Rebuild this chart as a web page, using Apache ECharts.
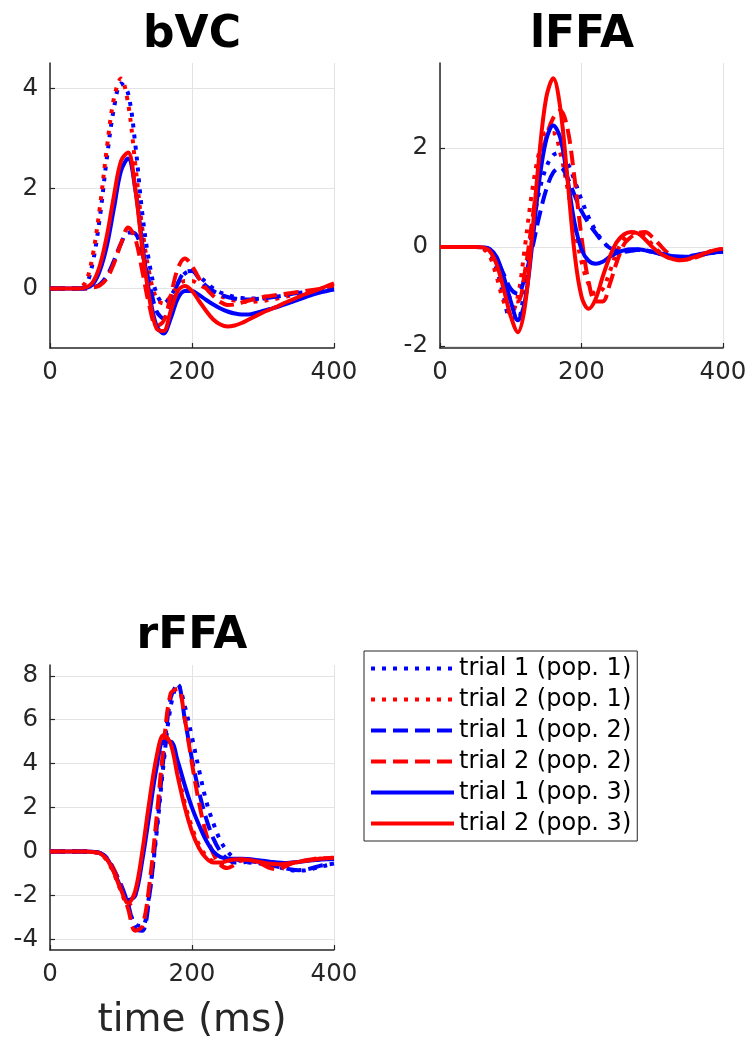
<!DOCTYPE html>
<html>
<head>
<meta charset="utf-8">
<script src="https://cdn.jsdelivr.net/npm/echarts@6/dist/echarts.min.js"></script>
<style>
html,body{margin:0;padding:0;background:#fff;}
#chart{width:753px;height:1041px;}
</style>
</head>
<body>
<div id="chart"></div>
<script>
// time (ms)
const time = [0,10,20,30,40,50,60,70,80,90,100,110,120,130,140,150,160,170,180,190,200,210,220,230,240,250,260,270,280,290,300,310,320,330,340,350,360,370,380,390,400];

const seriesNames = ['trial 1 (pop. 1)','trial 2 (pop. 1)','trial 1 (pop. 2)','trial 2 (pop. 2)','trial 1 (pop. 3)','trial 2 (pop. 3)'];
const panelTitles = ['bVC','lFFA','rFFA'];
const xTicks = [0,200,400];

// bVC
const bVC_t1p1 = [0,0,0,0,0, 0.05,0.5,1.4,2.6,3.6, 4.1,3.9,2.9,1.5,0.5, -0.1,-0.3,-0.15,0.1,0.3, 0.35,0.25,0.12,0.0,-0.08, -0.13,-0.17,-0.19,-0.2,-0.2, -0.2,-0.18,-0.15,-0.13,-0.1, -0.08,-0.06,-0.05,-0.03,-0.02, 0.0];
const bVC_t2p1 = [0,0,0,0,0.02, 0.12,0.65,1.6,2.8,3.8, 4.2,3.7,2.5,1.2,0.3, -0.2,-0.3,-0.15,0.05,0.15, 0.15,0.08,0.0,-0.08,-0.15, -0.2,-0.24,-0.26,-0.27,-0.26, -0.25,-0.22,-0.2,-0.17,-0.14, -0.1,-0.07,-0.04,-0.01,0.02, 0.05];
const bVC_t1p2 = [0,0,0,0,0, 0,0.02,0.08,0.25,0.55, 0.9,1.12,1.1,0.7,0.1, -0.45,-0.6,-0.35,0.1,0.33, 0.35,0.2,0.05,-0.05,-0.12, -0.17,-0.2,-0.22,-0.22,-0.21, -0.2,-0.18,-0.16,-0.14,-0.11, -0.09,-0.07,-0.05,-0.03,-0.01, 0.0];
const bVC_t2p2 = [0,0,0,0,0, 0,0.02,0.06,0.2,0.5, 0.9,1.22,1.0,0.35,-0.35, -0.75,-0.65,-0.15,0.4,0.6, 0.45,0.2,0.0,-0.15,-0.27, -0.33,-0.32,-0.28,-0.24,-0.2, -0.17,-0.15,-0.13,-0.11,-0.09, -0.07,-0.05,-0.03,-0.01,0.01, 0.03];
const bVC_t1p3 = [0,0,0,0,0, 0.01,0.08,0.35,0.85,1.6, 2.35,2.6,2.0,0.9,-0.1, -0.75,-0.9,-0.6,-0.2,-0.05, -0.05,-0.13,-0.23,-0.32,-0.4, -0.46,-0.5,-0.52,-0.52,-0.49, -0.45,-0.41,-0.37,-0.32,-0.27, -0.22,-0.17,-0.12,-0.08,-0.05, -0.02];
const bVC_t2p3 = [0,0,0,0,0, 0.02,0.12,0.45,1.05,1.85, 2.55,2.72,2.0,0.8,-0.2, -0.8,-0.85,-0.45,-0.05,0.05, -0.05,-0.25,-0.45,-0.62,-0.72, -0.76,-0.74,-0.69,-0.62,-0.55, -0.48,-0.42,-0.36,-0.29,-0.23, -0.17,-0.11,-0.06,-0.01,0.05, 0.1];

// lFFA
const lFFA_t1p1 = [0,0,0,0,0, 0,-0.02,-0.12,-0.45,-1.0, -1.45,-1.45,-0.7,0.3,1.1, 1.6,1.85,1.9,1.7,1.35, 0.95,0.6,0.33,0.12,-0.02, -0.08,-0.09,-0.07,-0.06,-0.07, -0.1,-0.13,-0.17,-0.2,-0.21, -0.2,-0.18,-0.16,-0.13,-0.11, -0.1];
const lFFA_t2p1 = [0,0,0,0,0, 0,-0.03,-0.18,-0.6,-1.1, -1.35,-1.0,0.0,1.1,1.9, 2.3,2.3,1.9,1.2,0.4, -0.3,-0.75,-0.95,-0.85,-0.5, -0.1,0.15,0.27,0.3,0.2, 0.05,-0.1,-0.2,-0.26,-0.27, -0.25,-0.2,-0.15,-0.1,-0.06, -0.04];
const lFFA_t1p2 = [0,0,0,0,0, 0,-0.01,-0.05,-0.25,-0.55, -0.85,-0.95,-0.6,-0.05,0.6, 1.15,1.5,1.6,1.4,1.05, 0.72,0.48,0.28,0.1,-0.02, -0.08,-0.1,-0.08,-0.06,-0.07, -0.1,-0.14,-0.18,-0.2,-0.2, -0.19,-0.17,-0.14,-0.12,-0.1, -0.09];
const lFFA_t2p2 = [0,0,0,0,0, 0,-0.01,-0.06,-0.3,-0.7, -1.05,-1.1,-0.5,0.5,1.5, 2.2,2.6,2.75,2.4,1.4, 0.2,-0.7,-1.1,-1.1,-0.75, -0.3,0.05,0.2,0.28,0.3, 0.2,0.05,-0.1,-0.2,-0.25, -0.25,-0.22,-0.17,-0.12,-0.08, -0.05];
const lFFA_t1p3 = [0,0,0,0,0, 0,-0.01,-0.04,-0.2,-0.6, -1.1,-1.48,-1.1,0.0,1.3, 2.15,2.45,2.2,1.4,0.5, -0.05,-0.28,-0.34,-0.3,-0.2, -0.12,-0.07,-0.05,-0.05,-0.07, -0.1,-0.13,-0.16,-0.19,-0.2, -0.2,-0.18,-0.15,-0.13,-0.11, -0.1];
const lFFA_t2p3 = [0,0,0,0,0, 0,-0.01,-0.08,-0.35,-0.85, -1.4,-1.72,-1.2,0.2,1.8, 3.0,3.4,2.8,1.4,-0.1, -1.0,-1.25,-1.05,-0.6,-0.2, 0.1,0.25,0.3,0.27,0.15, 0.0,-0.12,-0.2,-0.25,-0.27, -0.25,-0.2,-0.15,-0.1,-0.06, -0.04];

// rFFA
const rFFA_t1p1 = [0,0,0,0,0, 0,-0.01,-0.06,-0.3,-0.85, -1.6,-2.5,-3.3,-3.4,-1.9, 0.8,4.0,6.6,7.6,6.6, 5.2,3.7,2.3,1.3,0.5, 0.0,-0.3,-0.45,-0.5,-0.52, -0.55,-0.62,-0.7,-0.78,-0.85, -0.87,-0.85,-0.78,-0.7,-0.62, -0.55];
const rFFA_t2p1 = [0,0,0,0,0, 0,-0.02,-0.1,-0.4,-1.0, -1.8,-2.45,-2.0,-0.2,2.1, 4.1,5.2,5.0,3.6,2.2, 1.1,0.3,-0.2,-0.45,-0.55, -0.5,-0.45,-0.4,-0.42,-0.48, -0.55,-0.6,-0.62,-0.6,-0.55, -0.48,-0.42,-0.37,-0.33,-0.3, -0.28];
const rFFA_t1p2 = [0,0,0,0,0, 0,-0.01,-0.06,-0.3,-0.85, -1.5,-2.4,-3.5,-3.6,-2.0, 1.0,4.3,7.0,7.6,6.0, 4.2,2.7,1.5,0.6,0.0, -0.35,-0.5,-0.5,-0.45,-0.45, -0.5,-0.6,-0.68,-0.75,-0.82, -0.85,-0.82,-0.75,-0.65,-0.6, -0.55];
const rFFA_t2p2 = [0,0,0,0,0, 0,-0.01,-0.06,-0.3,-0.8, -1.6,-2.6,-3.6,-3.4,-1.5, 1.5,4.8,7.2,7.4,6.0, 4.0,2.2,0.8,-0.1,-0.6, -0.75,-0.6,-0.4,-0.35,-0.45, -0.6,-0.75,-0.8,-0.7,-0.55, -0.45,-0.4,-0.35,-0.3,-0.3, -0.3];
const rFFA_t1p3 = [0,0,0,0,0, 0,-0.01,-0.06,-0.3,-0.9, -1.65,-2.2,-2.0,-0.4,1.7, 3.8,5.0,5.0,4.1,3.0, 2.0,1.2,0.5,0.0,-0.25, -0.32,-0.33,-0.33,-0.35,-0.38, -0.42,-0.46,-0.5,-0.52,-0.5, -0.47,-0.43,-0.4,-0.37,-0.35, -0.35];
const rFFA_t2p3 = [0,0,0,0,0, 0,-0.02,-0.08,-0.35,-0.95, -1.75,-2.35,-1.8,0.0,2.3, 4.3,5.3,4.9,3.4,2.0, 0.9,0.15,-0.3,-0.5,-0.5, -0.42,-0.36,-0.35,-0.38,-0.44, -0.5,-0.55,-0.58,-0.56,-0.52, -0.47,-0.42,-0.37,-0.33,-0.3, -0.28];

const yTicks_bVC = [0,2,4];
const yTicks_lFFA = [-2,0,2];
const yTicks_rFFA = [-4,-2,0,2,4,6,8];

const panels = [
  {data:[bVC_t1p1,bVC_t2p1,bVC_t1p2,bVC_t2p2,bVC_t1p3,bVC_t2p3], ymin:-1.19, ymax:4.51, yticks:yTicks_bVC},
  {data:[lFFA_t1p1,lFFA_t2p1,lFFA_t1p2,lFFA_t2p2,lFFA_t1p3,lFFA_t2p3], ymin:-2.04, ymax:3.71, yticks:yTicks_lFFA},
  {data:[rFFA_t1p1,rFFA_t2p1,rFFA_t1p2,rFFA_t2p2,rFFA_t1p3,rFFA_t2p3], ymin:-4.48, ymax:8.49, yticks:yTicks_rFFA}
];

const FONT = 'DejaVu Sans';
const AX = '#262626';
const GRIDC = '#e3e3e3';
const colors = ['#0000ff','#ff0000','#0000ff','#ff0000','#0000ff','#ff0000'];
const dashes = [[4,7],[4,7],[15,7],[15,7],'solid','solid'];

const grids = [
  {left:50, top:63, width:284, height:285},
  {left:440, top:63, width:283, height:285},
  {left:50, top:665, width:284, height:287}
];
const titleX = [192, 582, 192];
const titleY = [14, 14, 615];

const chart = echarts.init(document.getElementById('chart'), null, {renderer:'canvas'});

const xAxes = [], yAxes = [], series = [], titles = [];
panels.forEach((p, i) => {
  titles.push({
    text: panelTitles[i], left: titleX[i], top: titleY[i], textAlign: 'center', padding: 0,
    textStyle: {fontFamily: FONT, fontSize: 44, fontWeight: 'bold', color: '#000'}
  });
  xAxes.push({
    type:'value', gridIndex:i, min:0, max:400, interval:200,
    axisLine:{show:true, onZero:false, lineStyle:{color:AX, width:1.5}},
    axisTick:{show:true, inside:true, length:5, lineStyle:{color:AX, width:1.2}},
    axisLabel:{fontFamily:FONT, fontSize:24.5, color:AX, margin:12, customValues: xTicks},
    splitLine:{show:true, lineStyle:{color:GRIDC, width:1}},
    name: i===2 ? 'time (ms)' : '', nameLocation:'middle', nameGap:51,
    nameTextStyle:{fontFamily:FONT, fontSize:39, color:AX}
  });
  yAxes.push({
    type:'value', gridIndex:i, min:p.ymin, max:p.ymax,
    axisLine:{show:true, onZero:false, lineStyle:{color:AX, width:1.5}},
    axisTick:{show:true, inside:true, length:5, lineStyle:{color:AX, width:1.2}, customValues:p.yticks},
    axisLabel:{fontFamily:FONT, fontSize:24.5, color:AX, margin:12, customValues:p.yticks},
    splitLine:{show:true, lineStyle:{color:GRIDC, width:1}}
  });
  p.data.forEach((arr, k) => {
    series.push({
      type:'line', name:seriesNames[k], xAxisIndex:i, yAxisIndex:i,
      data: time.map((t, j) => [t, arr[j]]),
      symbol:'none', smooth:0.35, animation:false, z: 2 + k,
      lineStyle:{color:colors[k], width:4, type:dashes[k], cap:'butt'},
      itemStyle:{color:colors[k]}
    });
  });
});

chart.setOption({
  backgroundColor:'#fff',
  animation:false,
  title: titles,
  grid: grids,
  xAxis: xAxes,
  yAxis: yAxes,
  legend: {
    data: seriesNames, orient:'vertical', left:364, top:651,
    padding:[4,6,4,5], itemWidth:83, itemHeight:14, itemGap:4,
    borderColor:'#262626', borderWidth:1, backgroundColor:'#fff',
    selectedMode:false,
    lineStyle:{width:4},
    itemStyle:{opacity:0},
    textStyle:{fontFamily:FONT, fontSize:24, color:'#000', lineHeight:27}
  },
  series: series
});
</script>
</body>
</html>
